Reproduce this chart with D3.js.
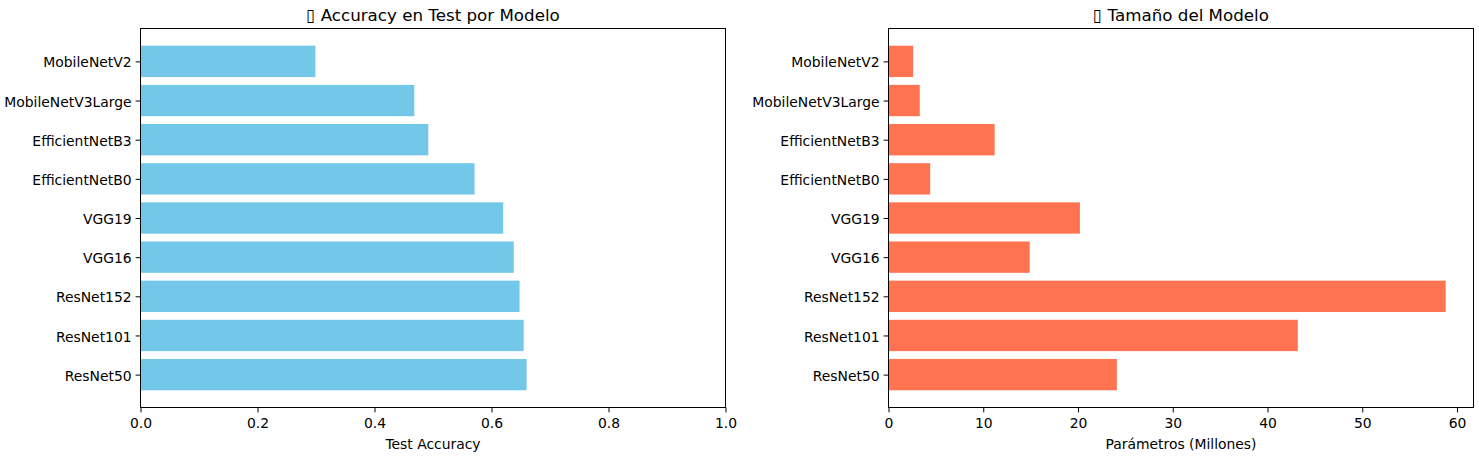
<!DOCTYPE html>
<html>
<head>
<meta charset="utf-8">
<script src="https://cdn.jsdelivr.net/npm/d3@7"></script>
<style>
  body { margin: 0; background: #fff; }
  svg text { font-family: "DejaVu Sans", sans-serif; fill: #000; }
</style>
</head>
<body>
<svg id="chart" width="1479" height="458"></svg>
<script>
// models from bottom to top, like matplotlib barh
var models = ["ResNet50", "ResNet101", "ResNet152", "VGG16", "VGG19",
              "EfficientNetB0", "EfficientNetB3", "MobileNetV3Large", "MobileNetV2"];
var accuracy = [0.660, 0.655, 0.648, 0.638, 0.620, 0.571, 0.492, 0.468, 0.299];
var params = [24.1, 43.2, 58.8, 14.9, 20.2, 4.4, 11.2, 3.3, 2.6];
var accTicks = [0, 0.2, 0.4, 0.6, 0.8, 1.0];
var paramTicks = [0, 10, 20, 30, 40, 50, 60];

var svg = d3.select("#chart");
var plotTop = 28.5, plotBottom = 407.5;

function drawPanel(left, right, values, xDomain, ticks, fmt, color, title, xlabel) {
    var g = svg.append("g");

    var x = d3.scaleLinear().domain(xDomain).range([left, right]);
    // matplotlib: bars at integer positions, height 0.8, 5% margin
    var n = models.length;
    var lo = -0.4 - 0.44, hi = n - 1 + 0.4 + 0.44;
    var y = d3.scaleLinear().domain([lo, hi]).range([plotBottom, plotTop]);

    g.selectAll("rect.bar")
        .data(values)
        .enter().append("rect")
        .attr("class", "bar")
        .attr("x", x(0))
        .attr("y", function (d, i) { return y(i + 0.4); })
        .attr("width", function (d) { return x(d) - x(0); })
        .attr("height", function (d, i) { return y(i - 0.4) - y(i + 0.4); })
        .attr("fill", color);

    // x axis
    var xAxis = d3.axisBottom(x).tickValues(ticks).tickFormat(fmt).tickSizeOuter(0).tickSize(4.9).tickPadding(6);
    var gx = g.append("g").attr("transform", "translate(0," + plotBottom + ")").call(xAxis);
    gx.select(".domain").remove();
    gx.selectAll("line").attr("stroke", "#000").attr("stroke-width", 1);
    gx.selectAll("text").style("font-size", "13.9px");

    // y axis
    var yAxis = d3.axisLeft(y).tickValues(d3.range(n)).tickFormat(function (i) { return models[i]; })
        .tickSizeOuter(0).tickSize(4.9).tickPadding(4);
    var gy = g.append("g").attr("transform", "translate(" + left + ",0)").call(yAxis);
    gy.select(".domain").remove();
    gy.selectAll("line").attr("stroke", "#000").attr("stroke-width", 1);
    gy.selectAll("text").style("font-size", "13.9px").attr("dy", "0.4em");

    // frame
    g.append("rect")
        .attr("x", left).attr("y", plotTop)
        .attr("width", right - left).attr("height", plotBottom - plotTop)
        .attr("fill", "none").attr("stroke", "#000").attr("stroke-width", 1);

    g.append("text")
        .attr("x", (left + right) / 2).attr("y", 20.5)
        .attr("text-anchor", "middle")
        .style("font-size", "16.7px")
        .text(title);

    g.append("text")
        .attr("x", (left + right) / 2).attr("y", 448.5)
        .attr("text-anchor", "middle")
        .style("font-size", "13.9px")
        .text(xlabel);
}

// the emoji in the titles show as a missing-glyph box in the reference
drawPanel(140.5, 725.5, accuracy, [0, 1], accTicks, d3.format(".1f"), "#73c7e8",
    "\u25AF Accuracy en Test por Modelo", "Test Accuracy");
drawPanel(888.5, 1473.5, params, [0, d3.max(params) * 1.05], paramTicks, d3.format("d"), "#ff7350",
    "\u25AF Tamaño del Modelo", "Parámetros (Millones)");
</script>
</body>
</html>
